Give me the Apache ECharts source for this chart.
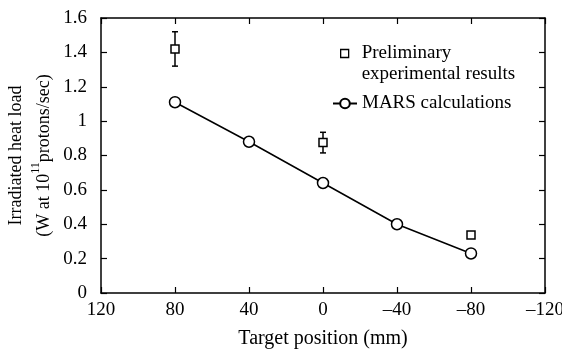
<!DOCTYPE html>
<html>
<head>
<meta charset="utf-8">
<script src="https://cdn.jsdelivr.net/npm/echarts@6/dist/echarts.min.js"></script>
<style>
  html, body { margin: 0; padding: 0; background: #fff; }
  #chart { width: 562px; height: 352px; }
</style>
</head>
<body>
<div id="chart"></div>
<script>
// target positions (mm)
var positions = [80, 40, 0, -40, -80];
// MARS calculations
var marsValues = [1.11, 0.88, 0.64, 0.40, 0.23];
// preliminary experimental results: position, value, error
var expPositions = [80, 0, -80];
var expValues = [1.42, 0.875, 0.337];
var expErrors = [0.10, 0.06, 0.015];

var font = '"Liberation Serif", "Times New Roman", serif';
var chart = echarts.init(document.getElementById('chart'), null, {renderer: 'canvas'});

var marsData = positions.map(function (p, i) { return [p, marsValues[i]]; });
var expData = expPositions.map(function (p, i) { return [p, expValues[i]]; });
var errData = expPositions.map(function (p, i) {
    return [p, expValues[i] - expErrors[i], expValues[i] + expErrors[i]];
});

function minus(v) { return String(v).replace('-', '\u2013'); }

var tickStyle = {inside: true, length: 6, lineStyle: {color: '#000', width: 1.2}};
var lineStyle = {onZero: false, lineStyle: {color: '#000', width: 1.5}};

var option = {
    animation: false,
    textStyle: {fontFamily: font, color: '#000'},
    grid: {left: 101, right: 17, top: 18, bottom: 59, outerBoundsMode: 'none', containLabel: false},
    legend: [{
        left: 335, top: 17, orient: 'vertical',
        itemWidth: 24, itemHeight: 8,
        // empty first line keeps the square level with "Preliminary"
        formatter: function (name) { return ' \n' + name; },
        textStyle: {fontFamily: font, fontSize: 19, color: '#000', lineHeight: 21},
        data: [
            {name: 'Preliminary\nexperimental results', icon: 'path://M0,0h10v10h-10z',
             itemStyle: {color: '#fff', borderColor: '#000', borderWidth: 1.3}}
        ]
    }, {
        left: 327, top: 89, itemWidth: 24, itemHeight: 12,
        textStyle: {fontFamily: font, fontSize: 19, color: '#000'},
        data: ['MARS calculations']
    }],
    xAxis: [{
        type: 'value', min: -120, max: 120, interval: 40, inverse: true,
        name: 'Target position (mm)', nameLocation: 'middle', nameGap: 36, nameMoveOverlap: false,
        nameTextStyle: {fontFamily: font, fontSize: 20, color: '#000'},
        axisLine: lineStyle, axisTick: tickStyle, splitLine: {show: false},
        axisLabel: {fontFamily: font, fontSize: 19, color: '#000', margin: 8, formatter: minus}
    }, {
        type: 'value', min: -120, max: 120, interval: 40, inverse: true, position: 'top',
        axisLine: lineStyle, axisTick: tickStyle, splitLine: {show: false}, axisLabel: {show: false}
    }],
    yAxis: [{
        type: 'value', min: 0, max: 1.6, interval: 0.2,
        name: '{a|Irradiated heat load}\n{a|(W at 10}{s|11}{a|protons/sec)}',
        nameLocation: 'middle', nameGap: 43, nameRotate: 90, nameMoveOverlap: false,
        nameTextStyle: {
            fontFamily: font, fontSize: 18, color: '#000', lineHeight: 28,
            rich: {
                a: {fontFamily: font, fontSize: 18, color: '#000', lineHeight: 28},
                s: {fontFamily: font, fontSize: 12, color: '#000', verticalAlign: 'top', lineHeight: 28, padding: [0, 0, 2, 0]}
            }
        },
        axisLine: lineStyle, axisTick: tickStyle, splitLine: {show: false},
        axisLabel: {fontFamily: font, fontSize: 19, color: '#000', margin: 14}
    }, {
        type: 'value', min: 0, max: 1.6, interval: 0.2, position: 'right',
        axisLine: lineStyle, axisTick: tickStyle, splitLine: {show: false}, axisLabel: {show: false}
    }],
    series: [{
        name: 'Preliminary\nexperimental results',
        type: 'scatter', symbol: 'rect', symbolSize: 8,
        itemStyle: {color: '#fff', borderColor: '#000', borderWidth: 1.5, opacity: 1},
        data: expData, z: 3
    }, {
        name: 'errors',
        type: 'custom',
        data: errData,
        z: 2,
        renderItem: function (params, api) {
            var x = api.value(0);
            var lo = api.coord([x, api.value(1)]);
            var hi = api.coord([x, api.value(2)]);
            var cap = 3;
            var st = {stroke: '#000', lineWidth: 1.5};
            return {
                type: 'group',
                children: [
                    {type: 'line', shape: {x1: lo[0], y1: lo[1], x2: hi[0], y2: hi[1]}, style: st},
                    {type: 'line', shape: {x1: lo[0] - cap, y1: lo[1], x2: lo[0] + cap, y2: lo[1]}, style: st},
                    {type: 'line', shape: {x1: hi[0] - cap, y1: hi[1], x2: hi[0] + cap, y2: hi[1]}, style: st}
                ]
            };
        }
    }, {
        name: 'MARS calculations',
        type: 'line', symbol: 'circle', symbolSize: 11, showAllSymbol: true,
        lineStyle: {color: '#000', width: 1.5},
        itemStyle: {color: '#fff', borderColor: '#000', borderWidth: 1.5},
        data: marsData
    }]
};

chart.setOption(option);
</script>
</body>
</html>
